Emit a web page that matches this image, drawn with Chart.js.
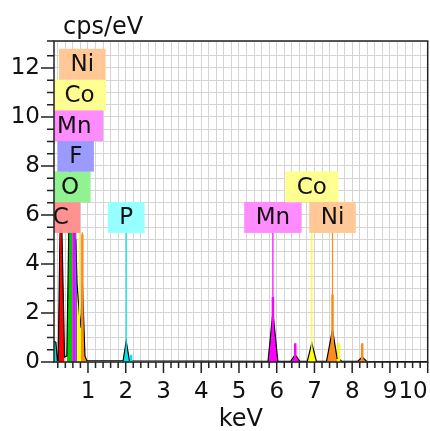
<!DOCTYPE html>
<html lang="en">
<head>
  <meta charset="UTF-8" />
  <title>EDS spectrum</title>
  <style>
    body { margin: 0; background: #fff; }
    #wrap { width: 430px; height: 431px; }
  </style>
</head>
<body>
  <div id="wrap"><canvas id="spectrum"></canvas></div>

  <script src="https://cdn.jsdelivr.net/npm/chart.js"></script>
  <script>
    // spectrum: energy (keV), counts (cps/eV),
    // and which element shades the segment from this point to the next
    const spectrumKeV = [0.10, 0.15, 0.19, 0.21, 0.28, 0.38, 0.44, 0.525, 0.58, 0.637, 0.665, 0.68, 0.71, 0.776, 0.815, 0.851, 0.92, 0.97,
                         1.93, 2.013, 2.10, 5.77, 5.899, 6.03, 6.37, 6.49, 6.61, 6.81, 6.93, 7.05, 7.32, 7.478, 7.60, 7.65, 7.72,
                         8.15, 8.265, 8.38, 10.0];
    const spectrumCps = [0.85, 0.80, 0.05, 0.05, 7.5, 0.20, 0.25, 8.5, 6.0, 6.2, 4.6, 5.0, 3.2, 1.9, 1.4, 3.3, 0.25, 0.05,
                         0.05, 0.85, 0.05, 0.03, 2.05, 0.03, 0.03, 0.30, 0.03, 0.03, 0.77, 0.03, 0.03, 1.33, 0.15, 0.12, 0.03,
                         0.03, 0.20, 0.03, 0.02];
    const spectrumEl  = ['P', 'P', '', 'C', 'C', '', 'O', 'O', 'Mn', 'Mn', 'F', 'F', 'Co', 'Co', 'Ni', 'Ni', 'Ni', '',
                         'P', 'P', '', 'Mn', 'Mn', '', 'Mn', 'Mn', '', 'Co', 'Co', '', 'Ni', 'Ni', 'Co', 'Co', '',
                         'Ni', 'Ni', '', ''];

    // element labels: name, line energy, level of the box centre
    const labelNames = ['C', 'O', 'F', 'Mn', 'Co', 'Ni', 'P', 'Mn', 'Co', 'Ni'];
    const labelKeV   = [0.277, 0.525, 0.677, 0.637, 0.776, 0.851, 2.013, 5.899, 6.930, 7.478];
    const labelLevel = [5.9, 7.15, 8.4, 9.65, 10.9, 12.15, 5.9, 5.9, 7.15, 5.9];
    const markerTop = 5.3;

    // line intensity markers
    const lineKeV = [0.851, 2.14, 5.899, 6.49, 7.478, 7.649, 8.265];
    const lineTop = [5.2, 0.3, 2.65, 0.77, 2.75, 0.77, 0.77];
    const lineEl  = ['Ni', 'P', 'Mn', 'Mn', 'Ni', 'Co', 'Ni'];

    const elColor = { C: '#ff0000', O: '#00c800', F: '#5a5aff', Mn: '#ff00ff', Co: '#ffff00', Ni: '#ff8c1a', P: '#00e6e6' };
    const boxColor = { C: '#ff9191', O: '#91f291', F: '#9b9bff', Mn: '#ff8cff', Co: '#ffff91', Ni: '#ffc896', P: '#96ffff' };

    const FONT = '"DejaVu Sans", Verdana, sans-serif';

    const datasets = [];

    // coloured fills, one per run of segments of the same element
    let i = 0;
    while (i < spectrumKeV.length - 1) {
      const el = spectrumEl[i];
      if (!el) { i++; continue; }
      let j = i;
      while (j < spectrumKeV.length - 1 && spectrumEl[j] === el) j++;
      const pts = [];
      for (let k = i; k <= j; k++) pts.push({ x: spectrumKeV[k], y: spectrumCps[k] });
      datasets.push({ data: pts, showLine: true, fill: 'origin', backgroundColor: elColor[el],
                      borderWidth: 0, pointRadius: 0, order: 3 });
      i = j;
    }

    // black outline of the whole spectrum
    datasets.push({
      data: spectrumKeV.map((v, k) => ({ x: v, y: spectrumCps[k] })),
      showLine: true, fill: false, borderColor: '#000', borderWidth: 1.2, pointRadius: 0, order: 2
    });

    // thin lines from the label boxes
    labelNames.forEach((name, k) => {
      datasets.push({ data: [{ x: labelKeV[k], y: 0 }, { x: labelKeV[k], y: markerTop }],
                      showLine: true, borderColor: elColor[name], borderWidth: 1.2, pointRadius: 0, order: 1 });
    });
    lineKeV.forEach((v, k) => {
      datasets.push({ data: [{ x: v, y: 0 }, { x: v, y: lineTop[k] }],
                      showLine: true, borderColor: elColor[lineEl[k]], borderWidth: 2.5, pointRadius: 0, order: 1 });
    });

    const extras = {
      id: 'extras',
      afterDatasetsDraw(chart) {
        const { ctx, chartArea: a, scales: { x, y } } = chart;
        ctx.save();
        ctx.beginPath();
        ctx.rect(a.left, a.top, a.right - a.left, a.bottom - a.top);
        ctx.clip();
        ctx.font = '23px ' + FONT;
        ctx.textAlign = 'center';
        ctx.textBaseline = 'middle';
        labelNames.forEach((name, k) => {
          const cx = x.getPixelForValue(labelKeV[k]);
          const cy = y.getPixelForValue(labelLevel[k]);
          const w = ctx.measureText(name).width + 23;
          ctx.fillStyle = boxColor[name];
          ctx.fillRect(cx - w / 2, cy - 15.5, w, 31);
          ctx.fillStyle = '#111';
          ctx.fillText(name, cx, cy + 1);
        });
        ctx.restore();
      },
      afterDraw(chart) {
        const { ctx, chartArea: a, scales: { x, y } } = chart;
        ctx.save();
        ctx.strokeStyle = '#222';
        ctx.lineWidth = 1.5;
        ctx.strokeRect(a.left, a.top, a.right - a.left, a.bottom - a.top);
        ctx.beginPath();
        x.ticks.forEach(t => {
          const px = x.getPixelForValue(t.value);
          const major = Math.abs(t.value - Math.round(t.value)) < 1e-6;
          ctx.moveTo(px, a.bottom);
          ctx.lineTo(px, a.bottom + (major ? 11 : 6));
        });
        y.ticks.forEach(t => {
          const py = y.getPixelForValue(t.value);
          const major = Math.abs(t.value % 2) < 1e-6;
          ctx.moveTo(a.left, py);
          ctx.lineTo(a.left - (major ? 13 : 7), py);
        });
        ctx.stroke();
        ctx.fillStyle = '#111';
        ctx.font = '24px ' + FONT;
        ctx.textAlign = 'left';
        ctx.textBaseline = 'alphabetic';
        ctx.fillText('cps/eV', a.left + 9, 34);
        ctx.restore();
      }
    };

    new Chart(document.getElementById('spectrum'), {
      type: 'scatter',
      data: { datasets: datasets },
      plugins: [extras],
      options: {
        responsive: true,
        maintainAspectRatio: false,
        animation: false,
        layout: { padding: { top: 41, right: 2.3, left: 0, bottom: 0 } },
        plugins: { legend: { display: false }, tooltip: { enabled: false } },
        scales: {
          x: {
            type: 'linear',
            min: 0.1,
            max: 10,
            afterFit: s => { s.height = 69; s.paddingLeft = 0; s.paddingRight = 0; },
            grid: { color: '#d4d4d4', drawTicks: false },
            border: { display: false },
            ticks: {
              stepSize: 0.2,
              includeBounds: false,
              autoSkip: false,
              minRotation: 0,
              maxRotation: 0,
              align: 'inner',
              padding: 16,
              color: '#111',
              font: { family: FONT, size: 23 },
              callback: v => Math.abs(v - Math.round(v)) < 1e-6 ? String(Math.round(v)) : ''
            },
            title: { display: true, text: 'keV', color: '#111', padding: 0,
                     font: { family: FONT, size: 24, lineHeight: 0.95 } }
          },
          y: {
            min: 0,
            max: 13.1,
            afterFit: s => { s.width = 54; },
            grid: { color: '#d4d4d4', drawTicks: false },
            border: { display: false },
            ticks: {
              stepSize: 0.5,
              autoSkip: false,
              padding: 14,
              color: '#111',
              font: { family: FONT, size: 23 },
              callback: v => (Math.abs(v % 2) < 1e-6 && v <= 12) ? String(v) : ''
            }
          }
        }
      }
    });
  </script>
</body>
</html>
